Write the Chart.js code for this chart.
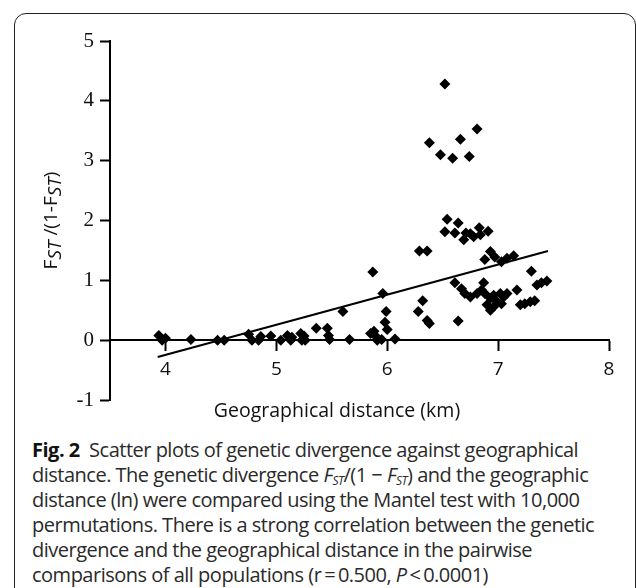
<!DOCTYPE html>
<html>
<head>
<meta charset="utf-8">
<script src="https://cdn.jsdelivr.net/npm/chart.js@4.4.0/dist/chart.umd.min.js"></script>
<style>
  body { margin: 0; background: #fff; }
  #frame { position: absolute; left: 14px; top: 13px; width: 622px; height: 600px;
           border: 1.5px solid #222; border-radius: 12px; box-sizing: border-box; }
  #wrap { position: absolute; left: 0; top: 0; width: 636px; height: 430px; }
  #caption { position: absolute; left: 32px; top: 437px; width: 600px;
             font-family: "Open Sans", sans-serif; font-size: 20px; line-height: 25px;
             color: #2a2a2a; letter-spacing: -0.5px; white-space: nowrap; }
  #caption b { color: #111; }
  #caption sub { font-size: 12px; line-height: 0; vertical-align: -3px; }
</style>
</head>
<body>
<div id="frame"></div>
<div id="wrap"><canvas id="myChart" width="636" height="430"></canvas></div>
<div id="caption">
<b>Fig. 2</b>&nbsp; Scatter plots of genetic divergence against geographical<br>
distance. The genetic divergence <i>F<sub>ST</sub></i>/(1 &minus; <i>F<sub>ST</sub></i>) and the geographic<br>
distance (ln) were compared using the Mantel test with 10,000<br>
permutations. There is a strong correlation between the genetic<br>
divergence and the geographical distance in the pairwise<br>
comparisons of all populations (r&thinsp;=&thinsp;0.500, <i>P</i>&thinsp;&lt;&thinsp;0.0001)
</div>
<script>
// geographical distance (ln km) of each pair
var distX = [3.94, 4.00, 3.97, 4.23, 4.47, 4.53, 4.75, 4.78, 4.86, 4.84, 4.95, 5.04, 5.10, 5.13, 5.14,
  5.22, 5.23, 5.26, 5.25, 5.36, 5.46, 5.47, 5.48, 5.60, 5.66, 5.85, 5.87, 5.96, 5.99, 5.98,
  6.00, 5.88, 5.89, 5.91, 5.95, 6.07, 6.32, 6.28, 6.36, 6.38, 6.64, 6.61, 6.67, 6.70, 6.75,
  6.81, 6.87, 6.85, 6.90, 6.88, 6.93, 6.96, 7.02, 7.05, 7.08, 6.99, 6.93, 6.96, 7.03, 7.17,
  7.30, 7.35, 7.39, 7.44, 7.20, 7.24, 7.29, 7.33, 6.52, 6.38, 6.48, 6.59, 6.66, 6.74, 6.81,
  6.29, 6.36, 6.54, 6.64, 6.52, 6.61, 6.69, 6.75, 6.78, 6.83, 6.84, 6.91, 6.71, 6.93, 6.88,
  6.97, 7.03, 7.08, 7.14];
// genetic divergence FST/(1-FST)
var fstY = [0.08, 0.03, 0.00, 0.01, 0.00, 0.00, 0.10, 0.00, 0.06, 0.00, 0.07, 0.00, 0.08, 0.00, 0.05,
  0.11, 0.00, 0.00, 0.07, 0.20, 0.20, 0.08, 0.01, 0.48, 0.01, 0.11, 1.14, 0.78, 0.48, 0.30,
  0.18, 0.15, 0.08, 0.00, 0.01, 0.02, 0.66, 0.48, 0.33, 0.28, 0.32, 0.96, 0.86, 0.78, 0.72,
  0.78, 0.96, 0.84, 0.59, 0.78, 0.70, 0.75, 0.78, 0.72, 0.78, 0.64, 0.50, 0.56, 0.61, 0.84,
  1.15, 0.92, 0.96, 0.99, 0.59, 0.61, 0.64, 0.66, 4.28, 3.30, 3.10, 3.04, 3.36, 3.07, 3.53,
  1.49, 1.49, 2.02, 1.96, 1.81, 1.79, 1.68, 1.78, 1.73, 1.88, 1.76, 1.82, 1.79, 1.48, 1.35,
  1.39, 1.31, 1.37, 1.41];
// regression line ends
var fitX = [3.93, 7.45];
var fitY = [-0.28, 1.49];
var xTicks = [4, 5, 6, 7, 8];
var yTicks = [-1, 0, 1, 2, 3, 4, 5];

var points = [];
for (let i = 0; i < distX.length; i++) {
  points.push({x: distX[i], y: fstY[i]});
}
var fitLine = [];
for (let i = 0; i < fitX.length; i++) {
  fitLine.push({x: fitX[i], y: fitY[i]});
}

// axis titles drawn by hand (italic subscripts, off-centre x title)
var titlesPlugin = {
  id: 'titles',
  afterDraw: function (chart) {
    let c = chart.ctx;
    let parts = [['F', false, 0], ['ST', true, 4], [' /(1-F', false, 0], ['ST', true, 4], [')', false, 0]];
    c.save();
    c.fillStyle = '#111';
    c.textBaseline = 'middle';
    c.textAlign = 'center';
    c.font = '19.5px "Open Sans", sans-serif';
    c.fillText('Geographical distance (km)', 337, 411);

    c.textAlign = 'left';
    c.translate(52, (chart.chartArea.top + chart.chartArea.bottom) / 2);
    c.rotate(-Math.PI / 2);
    let total = 0;
    parts.forEach(function (p) {
      c.font = (p[1] ? 'italic ' : '') + '19px "Open Sans", sans-serif';
      total += c.measureText(p[0]).width;
    });
    let x = -total / 2;
    parts.forEach(function (p) {
      c.font = (p[1] ? 'italic ' : '') + '19px "Open Sans", sans-serif';
      c.fillText(p[0], x, p[2]);
      x += c.measureText(p[0]).width;
    });
    c.restore();
  }
};

var ctx = document.getElementById('myChart');
var myChart = new Chart(ctx, {
  type: 'scatter',
  data: {
    datasets: [{
      data: points,
      pointStyle: 'rectRot',
      pointRadius: 5.5,
      backgroundColor: '#000',
      borderColor: '#000',
      borderWidth: 0
    }, {
      type: 'line',
      data: fitLine,
      borderColor: '#000',
      borderWidth: 2,
      pointRadius: 0,
      fill: false
    }]
  },
  options: {
    responsive: false,
    animation: false,
    layout: { padding: { left: 0, right: 27, top: 41, bottom: 30 } },
    plugins: { legend: { display: false }, tooltip: { enabled: false } },
    scales: {
      x: {
        type: 'linear',
        min: 3.5,
        max: 8,
        position: { y: 0 },
        afterBuildTicks: function (s) { s.ticks = xTicks.map(function (v) { return {value: v}; }); },
        grid: { drawOnChartArea: false, tickLength: 10, tickWidth: 2, tickColor: '#000' },
        border: { color: '#000', width: 2 },
        ticks: { color: '#111', font: { family: '"Open Sans", sans-serif', size: 19 }, padding: 8, maxRotation: 0, autoSkip: false }
      },
      y: {
        min: -1,
        max: 5,
        afterBuildTicks: function (s) { s.ticks = yTicks.map(function (v) { return {value: v}; }); },
        afterFit: function (s) { s.width = 110; },
        grid: { drawOnChartArea: false, tickLength: 10, tickWidth: 2, tickColor: '#000' },
        border: { color: '#000', width: 2 },
        ticks: { color: '#111', font: { family: '"Liberation Serif", serif', size: 21 }, padding: 6 }
      }
    }
  },
  plugins: [titlesPlugin]
});
</script>
</body>
</html>
